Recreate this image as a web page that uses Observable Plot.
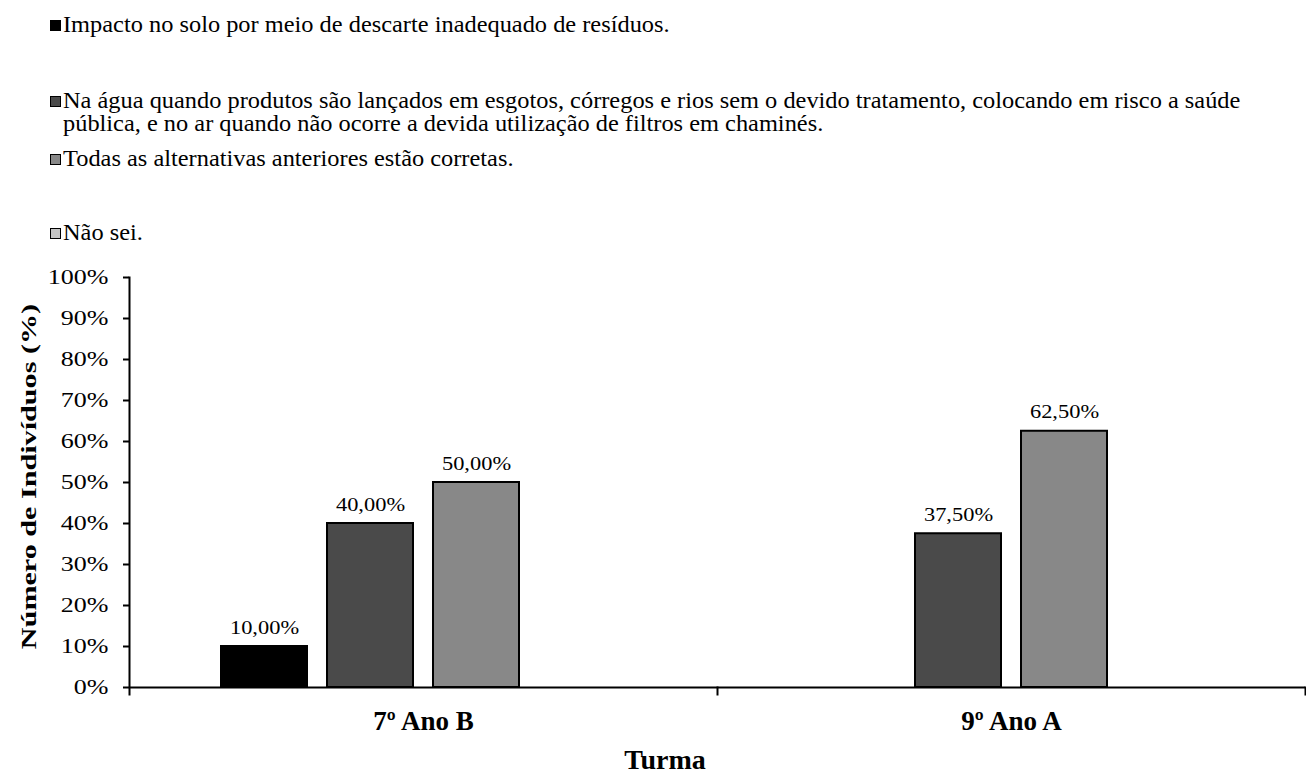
<!DOCTYPE html>
<html>
<head>
<meta charset="utf-8">
<script src="https://cdn.jsdelivr.net/npm/d3@7"></script>
<script src="https://cdn.jsdelivr.net/npm/@observablehq/plot@0.6"></script>
<style>
  body { margin: 0; background: #fff; font-family: "Liberation Serif", "Times New Roman", serif; color: #000; }
  #wrap { position: relative; width: 1306px; height: 774px; overflow: hidden; background: #fff; }
  .item { position: absolute; left: 50px; display: flex; align-items: flex-start; font-family: "Liberation Serif", "Times New Roman", serif; font-size: 23px; line-height: 23px; }
  .sw { width: 9px; height: 9px; border: 1px solid #000; margin-top: 7px; flex: none; }
  .txt { margin-left: 2px; transform-origin: left top; transform: scaleX(1.06); width: 1145px; }
  #chart { position: absolute; left: 0; top: 262px; }
  #xlabel { position: absolute; top: 742px; left: 565px; width: 200px; text-align: center; font-weight: bold; font-size: 28px; line-height: 36px; }
</style>
</head>
<body>
<div id="wrap">
  <div id="legend"></div>
  <div id="chart"></div>
  <div id="xlabel"></div>
</div>
<script>
const classes = ["7º Ano B", "9º Ano A"];
const series = [
  "Impacto no solo por meio de descarte inadequado de resíduos.",
  "Na água quando produtos são lançados em esgotos, córregos e rios sem o devido tratamento, colocando em risco a saúde pública, e no ar quando não ocorre a devida utilização de filtros em chaminés.",
  "Todas as alternativas anteriores estão corretas.",
  "Não sei."
];
const values7B = [10, 40, 50, 0];
const values9A = [0, 37.5, 62.5, 0];
const yTicks = [0, 10, 20, 30, 40, 50, 60, 70, 80, 90, 100];
const yLabel = "Número de Indivíduos (%)";
const xLabel = "Turma";
const colors = ["#000000", "#4a4a4a", "#888888", "#c4c4c4"];
const legendTops = [13, 89, 147, 221];

const valuesByClass = [values7B, values9A];
const data = [];
classes.forEach((c, ci) => series.forEach((s, si) => data.push({cls: c, serie: s, value: valuesByClass[ci][si]})));
const fmt = v => v.toFixed(2).replace(".", ",") + "%";

// Legend
const legend = document.getElementById("legend");
series.forEach((s, i) => {
  const item = document.createElement("div");
  item.className = "item";
  item.style.top = legendTops[i] + "px";
  const sw = document.createElement("span");
  sw.className = "sw";
  sw.style.background = colors[i];
  const tx = document.createElement("span");
  tx.className = "txt";
  tx.textContent = s;
  item.append(sw, tx);
  legend.append(item);
});
document.getElementById("xlabel").textContent = xLabel;

const W = 1306, H = 512, mt = 15, mb = 87, ml = 129, mr = 1;
const plotH = H - mt - mb;
const font = '"Liberation Serif", "Times New Roman", serif';

const chart = Plot.plot({
  width: W, height: H,
  marginTop: mt, marginBottom: mb, marginLeft: ml, marginRight: mr,
  style: {fontFamily: font, fontSize: "20px", color: "#000", background: "#fff", overflow: "visible"},
  fx: {domain: classes, padding: 0},
  x: {domain: series, paddingInner: 0.19, paddingOuter: 0.85, axis: null},
  y: {domain: [0, 100]},
  color: {domain: series, range: colors},
  marks: [
    Plot.barY(data, {filter: d => d.value > 0, fx: "cls", x: "serie", y: "value", fill: "serie", stroke: "#000", strokeWidth: 2}),
    Plot.text(data, {filter: d => d.value > 0, fx: "cls", x: "serie", y: "value", text: d => fmt(d.value), dy: -13, lineAnchor: "bottom", fontSize: 19.5, fill: "#000"}),
    Plot.ruleY([0], {stroke: "#000", strokeWidth: 2}),
    Plot.frame({anchor: "left", fx: classes[0], insetBottom: -7, stroke: "#000", strokeWidth: 2}),
    Plot.frame({anchor: "right", insetTop: plotH, insetBottom: -7, stroke: "#000", strokeWidth: 2}),
    Plot.axisY({ticks: yTicks, tickFormat: d => d + "%", tickSize: 6, tickPadding: 15, fontSize: 20, label: null, stroke: "#000", strokeWidth: 2}),
    Plot.axisFx({anchor: "bottom", tickSize: 0, tickPadding: 23, fontSize: 27, fontWeight: "bold", label: null}),
    Plot.text([yLabel], {fx: () => classes[0], frameAnchor: "left", rotate: -90, dx: -101, dy: -6, fontSize: 22, fontWeight: "bold", lineAnchor: "middle", textAnchor: "middle"})
  ]
});
document.getElementById("chart").append(chart);

function stretchEl(t, f) {
  const L = t.getComputedTextLength();
  t.setAttribute("textLength", L * f);
  t.setAttribute("lengthAdjust", "spacingAndGlyphs");
}
chart.querySelectorAll('g[aria-label="y-axis tick label"] text').forEach(t => stretchEl(t, 1.3));
chart.querySelectorAll('g[aria-label="text"] text').forEach(t => {
  stretchEl(t, t.textContent === yLabel ? 1.37 : 1.15);
});
</script>
</body>
</html>
